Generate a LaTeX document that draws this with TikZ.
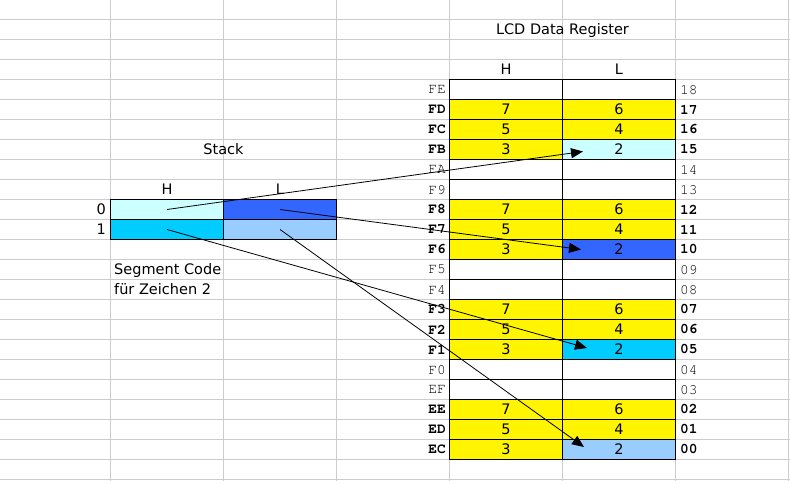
\documentclass[tikz,border=0pt]{standalone}
\usepackage[T1]{fontenc}
\usepackage{fontspec}
\setmainfont{DejaVu Sans}
\usetikzlibrary{arrows.meta}

\newcommand{\regmono}{\fontencoding{T1}\fontfamily{pcr}\fontsize{14.5}{20}\selectfont}

\definecolor{celyellow}{RGB}{255,245,0}
\definecolor{celcyan}{RGB}{204,255,255}
\definecolor{celblue}{RGB}{51,102,255}
\definecolor{celsky}{RGB}{0,204,255}
\definecolor{cellight}{RGB}{153,204,255}
\definecolor{gridgray}{RGB}{204,204,204}

\begin{document}
\begin{tikzpicture}[x=1pt, y=-1pt,
    every node/.style={font=\fontsize{14.5}{20}\selectfont},
    cell/.style={draw, line width=0.9pt, minimum width=113pt, minimum height=20pt, inner sep=0pt},
    lbl/.style={anchor=base, inner sep=0pt},
    gridline/.style={gridgray, line width=0.8pt},
    ptr/.style={-{Triangle[length=12pt, width=10pt]}, line width=0.8pt}]
    \useasboundingbox (0,0) rectangle (790,481);

    % sheet grid
    \foreach \x in {110.5,223.5,336.5,449.5,562.5,675.5,788.5}
        \draw[gridline] (\x,0) -- (\x,481);
    \foreach \k in {0,...,23}
        \draw[gridline] (0,19.5+20*\k) -- (790,19.5+20*\k);

    % stack
    \node[lbl] (stack) at (223.5,155) {Stack};
    \node[lbl] (stH) at (167,195) {H};
    \node[lbl] (stL) at (280,195) {L};
    \node[cell, fill=celcyan] (sh0) at (167,209.5) {};
    \node[cell, fill=celblue] (sl0) at (280,209.5) {};
    \node[cell, fill=celsky] (sh1) at (167,229.5) {};
    \node[cell, fill=cellight] (sl1) at (280,229.5) {};
    \node[anchor=east, inner sep=0pt] (i0) at (106,209.5) {0};
    \node[anchor=east, inner sep=0pt] (i1) at (106,229.5) {1};
    \node[anchor=west, inner sep=0pt, align=left] (seg) at (114,279)
        {Segment Code\\f\"ur Zeichen 2};

    % LCD data register
    \node[lbl] (lcd) at (562.5,35) {LCD Data Register};
    \node[lbl] (regH) at (506,75) {H};
    \node[lbl] (regL) at (619,75) {L};
    \foreach \i/\a/\n/\hv/\lv/\hc/\lc/\w in {
        0/FE/18/{}/{}/white/white/\mdseries,
        1/FD/17/7/6/celyellow/celyellow/\bfseries,
        2/FC/16/5/4/celyellow/celyellow/\bfseries,
        3/FB/15/3/2/celyellow/celcyan/\bfseries,
        4/FA/14/{}/{}/white/white/\mdseries,
        5/F9/13/{}/{}/white/white/\mdseries,
        6/F8/12/7/6/celyellow/celyellow/\bfseries,
        7/F7/11/5/4/celyellow/celyellow/\bfseries,
        8/F6/10/3/2/celyellow/celblue/\bfseries,
        9/F5/09/{}/{}/white/white/\mdseries,
        10/F4/08/{}/{}/white/white/\mdseries,
        11/F3/07/7/6/celyellow/celyellow/\bfseries,
        12/F2/06/5/4/celyellow/celyellow/\bfseries,
        13/F1/05/3/2/celyellow/celsky/\bfseries,
        14/F0/04/{}/{}/white/white/\mdseries,
        15/EF/03/{}/{}/white/white/\mdseries,
        16/EE/02/7/6/celyellow/celyellow/\bfseries,
        17/ED/01/5/4/celyellow/celyellow/\bfseries,
        18/EC/00/3/2/celyellow/cellight/\bfseries}
    {
        \node[cell, fill=\hc] (h\i) at (506,89.5+20*\i) {\hv};
        \node[cell, fill=\lc] (l\i) at (619,89.5+20*\i) {\lv};
        \node[anchor=east, inner sep=0pt, font=\regmono\w]
            (a\i) at (446,89.5+20*\i) {\a};
        \node[anchor=west, inner sep=0pt, font=\regmono\w]
            (n\i) at (680,89.5+20*\i) {\n};
    }

    \draw[ptr] (sh0.center) -- ([xshift=-36pt, yshift=-2pt]l3.center);
    \draw[ptr] (sl0.center) -- ([xshift=-38pt]l8.center);
    \draw[ptr] (sh1.center) -- ([xshift=-32pt, yshift=1.5pt]l13.center);
    \draw[ptr] (sl1.center) -- ([xshift=-35pt, yshift=2.5pt]l18.center);
\end{tikzpicture}
\end{document}
